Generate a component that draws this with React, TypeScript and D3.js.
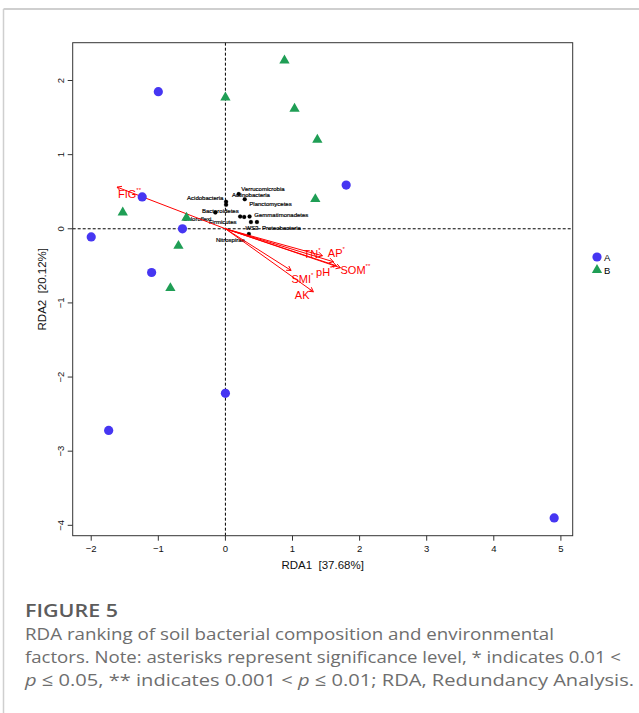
import React from "react";
import * as d3 from "d3";

// ---- Data ----
const groupAX = [-1.0, 1.8, -1.24, -0.64, -2.0, -1.1, 0.0, -1.74, 4.9];
const groupAY = [1.85, 0.59, 0.43, 0.0, -0.11, -0.59, -2.22, -2.72, -3.9];
const groupBX = [0.88, 0.0, 1.03, 1.37, 1.34, -1.53, -0.58, -0.7, -0.82];
const groupBY = [2.27, 1.77, 1.62, 1.2, 0.4, 0.22, 0.15, -0.23, -0.8];

const envNames = ["FIG", "TN", "AP", "pH", "SOM", "SMI", "AK"];
const envStars = ["**", "*", "*", "**", "**", "*", "*"];
const envX = [-1.615, 1.446, 1.61, 1.654, 1.714, 0.979, 1.311];
const envY = [0.562, -0.364, -0.445, -0.499, -0.526, -0.562, -0.85];
const envLabelX = [-1.43, 1.29, 1.654, 1.49, 1.937, 1.148, 1.162];
const envLabelY = [0.465, -0.337, -0.324, -0.58, -0.553, -0.674, -0.89];

const taxaNames = [
  "Verrucomicrobia", "Actinobacteria", "Acidobacteria", "Planctomycetes",
  "Bacteroidetes", "Gemmatimonadetes", "Chloroflexi", "Firmicutes",
  "WS3", "Proteobacteria", "Nitrospirae",
];
const taxaX = [0.198, 0.288, 0.01, 0.01, -0.15, 0.36, 0.22, 0.28, 0.38, 0.47, 0.35];
const taxaY = [0.468, 0.4, 0.364, 0.324, 0.22, 0.165, 0.165, 0.16, 0.09, 0.09, -0.07];
const taxaLabelX = [0.559, 0.38, -0.3, 0.672, -0.075, 0.834, -0.42, -0.04, 0.395, 0.835, 0.075];
const taxaLabelY = [0.53, 0.458, 0.415, 0.333, 0.24, 0.189, 0.131, 0.085, 0.01, 0.01, -0.148];

const xTicks = [-2, -1, 0, 1, 2, 3, 4, 5];
const yTicks = [-4, -3, -2, -1, 0, 1, 2];
const xDomain = [-2.276, 5.176];
const yDomain = [-4.14, 2.51];

const xTitle = "RDA1\u00a0\u00a0[37.68%]";
const yTitle = "RDA2\u00a0\u00a0[20.12%]";
const legendLabels = ["A", "B"];

const colorA = "#4636f2";
const colorB = "#1f9e55";

export default function App() {
  const L = 72.7, R = 572.7, T = 42.7, B = 535.7;
  const x = d3.scaleLinear().domain(xDomain).range([L, R]);
  const y = d3.scaleLinear().domain(yDomain).range([B, T]);
  const tri = d3.symbol().type(d3.symbolTriangle).size(46)() as string;
  const font = "'Liberation Sans', Arial, sans-serif";

  const arrowHead = (x0: number, y0: number, x1: number, y1: number) => {
    const ang = Math.atan2(y1 - y0, x1 - x0);
    const len = 5;
    const a = Math.PI / 6;
    const p1 = [x1 - len * Math.cos(ang - a), y1 - len * Math.sin(ang - a)];
    const p2 = [x1 - len * Math.cos(ang + a), y1 - len * Math.sin(ang + a)];
    return `M${p1[0]},${p1[1]}L${x1},${y1}L${p2[0]},${p2[1]}`;
  };

  return (
    <svg
      width={639}
      height={713}
      style={{ position: "absolute", left: 0, top: 0, background: "#fff" }}
    >
      {/* card border */}
      <line x1={3.5} y1={9} x2={639} y2={9} stroke="#cfcfcf" strokeWidth={2} />
      <line x1={3.5} y1={9} x2={3.5} y2={713} stroke="#cfcfcf" strokeWidth={1.5} />

      {/* zero lines */}
      <line x1={x(0)} x2={x(0)} y1={T} y2={B} stroke="#000" strokeWidth={1} strokeDasharray="3,2" />
      <line x1={L} x2={R} y1={y(0)} y2={y(0)} stroke="#000" strokeWidth={1} strokeDasharray="3,2" />

      {/* box */}
      <rect x={L} y={T} width={R - L} height={B - T} fill="none" stroke="#333" strokeWidth={1} />

      {/* axes */}
      <g fontFamily={font} fontSize={9.5} fill="#111">
        {xTicks.map((t) => (
          <g key={"xt" + t}>
            <line x1={x(t)} x2={x(t)} y1={B} y2={B + 5} stroke="#333" />
            <text x={x(t)} y={B + 16} textAnchor="middle">
              {t < 0 ? "\u2212" + Math.abs(t) : t}
            </text>
          </g>
        ))}
        {yTicks.map((t) => (
          <g key={"yt" + t}>
            <line x1={L - 5} x2={L} y1={y(t)} y2={y(t)} stroke="#333" />
            <text
              transform={`translate(${L - 9},${y(t)}) rotate(-90)`}
              textAnchor="middle"
            >
              {t < 0 ? "\u2212" + Math.abs(t) : t}
            </text>
          </g>
        ))}
        <text x={(L + R) / 2} y={569} textAnchor="middle" fontSize={11.5}>
          {xTitle}
        </text>
        <text
          transform={`translate(46,${(T + B) / 2}) rotate(-90)`}
          textAnchor="middle"
          fontSize={11.5}
        >
          {yTitle}
        </text>
      </g>

      {/* taxa */}
      <g fontFamily={font} fontSize={6} fill="#000" stroke="#000" strokeWidth={0.2}>
        {taxaNames.map((n, i) => (
          <g key={n}>
            <circle cx={x(taxaX[i])} cy={y(taxaY[i])} r={2} fill="#000" />
            <text
              x={x(taxaLabelX[i])}
              y={y(taxaLabelY[i])}
              textAnchor="middle"
              dominantBaseline="central"
            >
              {n}
            </text>
          </g>
        ))}
      </g>

      {/* env arrows */}
      <g stroke="#ff0000" strokeWidth={1} fill="none">
        {envNames.map((n, i) => (
          <g key={n}>
            <line x1={x(0)} y1={y(0)} x2={x(envX[i])} y2={y(envY[i])} />
            <path d={arrowHead(x(0), y(0), x(envX[i]), y(envY[i]))} />
          </g>
        ))}
      </g>

      {/* points */}
      {groupAX.map((v, i) => (
        <circle key={"a" + i} cx={x(v)} cy={y(groupAY[i])} r={4.6} fill={colorA} />
      ))}
      {groupBX.map((v, i) => (
        <path
          key={"b" + i}
          d={tri}
          transform={`translate(${x(v)},${y(groupBY[i])})`}
          fill={colorB}
        />
      ))}

      {/* env labels */}
      <g fontFamily={font} fill="#ff0000">
        {envNames.map((n, i) => (
          <text
            key={"l" + n}
            x={x(envLabelX[i])}
            y={y(envLabelY[i])}
            textAnchor="middle"
            dominantBaseline="central"
            fontSize={11}
          >
            {n}
            <tspan fontSize={6} dy={-4}>
              {envStars[i]}
            </tspan>
          </text>
        ))}
      </g>

      {/* legend */}
      <g fontFamily={font} fontSize={9.5} fill="#000">
        <circle cx={597} cy={257} r={4.6} fill={colorA} />
        <text x={604} y={257} dominantBaseline="central">
          {legendLabels[0]}
        </text>
        <path d={tri} transform="translate(597,270)" fill={colorB} />
        <text x={604} y={270} dominantBaseline="central">
          {legendLabels[1]}
        </text>
      </g>

      {/* caption */}
      <g fontFamily="'Open Sans', sans-serif">
        <text
          x={25}
          y={617}
          fontSize={18.5}
          fontWeight={600}
          fill="#5c5c5c"
          textLength={93}
          lengthAdjust="spacingAndGlyphs"
        >
          FIGURE 5
        </text>
        <g fontSize={17.2} fill="#6e6e6e">
          <text x={25} y={640} textLength={529} lengthAdjust="spacingAndGlyphs">
            RDA ranking of soil bacterial composition and environmental
          </text>
          <text x={25} y={663} textLength={596} lengthAdjust="spacingAndGlyphs">
            factors. Note: asterisks represent significance level, * indicates 0.01 &lt;
          </text>
          <text x={25} y={686} textLength={609} lengthAdjust="spacingAndGlyphs">
            <tspan fontStyle="italic">p</tspan> ≤ 0.05, ** indicates 0.001 &lt;{" "}
            <tspan fontStyle="italic">p</tspan> ≤ 0.01; RDA, Redundancy Analysis.
          </text>
        </g>
      </g>
    </svg>
  );
}
